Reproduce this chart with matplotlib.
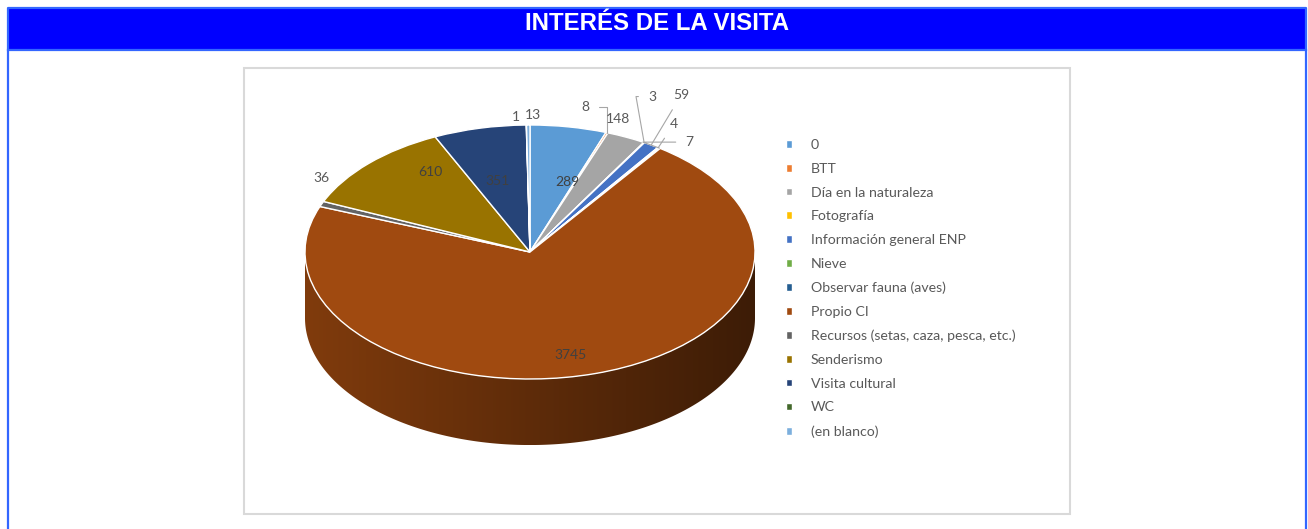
import numpy as np
import matplotlib
matplotlib.use("Agg")
from matplotlib import pyplot as plt
from matplotlib.patches import Rectangle, Polygon
import matplotlib.colors as mcolors

categories = ["0", "BTT", "Día en la naturaleza", "Fotografía", "Información general ENP",
              "Nieve", "Observar fauna (aves)", "Propio CI", "Recursos (setas, caza, pesca, etc.)",
              "Senderismo", "Visita cultural", "WC", "(en blanco)"]
values = [289, 8, 148, 3, 59, 4, 7, 3745, 36, 610, 351, 1, 13]
colors = ["#5B9BD5", "#ED7D31", "#A5A5A5", "#FFC000", "#4472C4", "#70AD47", "#255E91",
          "#A04A10", "#636363", "#997300", "#264478", "#43682B", "#7CAFDD"]
title = "INTERÉS DE LA VISITA"

W, H = 1308, 529
fig = plt.figure(figsize=(W / 100, H / 100), dpi=100)

# page frame + title bar (pixel coordinates)
bg = fig.add_axes([0, 0, 1, 1])
bg.set_xlim(0, W)
bg.set_ylim(H, 0)
bg.axis("off")
bg.add_patch(Rectangle((9, 9), 1296, 40, facecolor="#0000FF", edgecolor="none"))
bg.plot([8, 8, 1306, 1306], [H + 5, 8, 8, H + 5], color="#3366FF", lw=1.6)
bg.plot([8, 1306], [49.5, 49.5], color="#3366FF", lw=1.6)
bg.add_patch(Rectangle((244, 68), 826, 446, facecolor="white", edgecolor="#D9D9D9", lw=1.5))
bg.text(657, 29.5, title, color="white", fontsize=17.3, fontweight="bold",
        family="Liberation Sans", ha="center", va="baseline")

# pie axes: unit circle -> ellipse rx=225 px, ry=127 px, center (530, 252)
cx, cy, rx, ry = 530, 252, 225, 127
depth = 0.52
ylo, yhi = -1.75, 1.0
ax = fig.add_axes([(cx - rx) / W, 1 - (cy - ylo * ry) / H, 2 * rx / W, (yhi - ylo) * ry / H])

wedges, _ = ax.pie(values, colors=colors, startangle=90, counterclock=False,
                   wedgeprops=dict(edgecolor="white", linewidth=1.0), radius=1, frame=False)
for w in wedges:
    w.set_zorder(3)

# 3D side of the pie: front part of each wedge
for w, c in zip(wedges, colors):
    t1, t2 = w.theta1, w.theta2
    for shift in (0, 360, -360):
        a, b = max(t1 + shift, 180), min(t2 + shift, 360)
        if b <= a:
            continue
        t = np.radians(np.linspace(a, b, 200))
        xs, ys = np.cos(t), np.sin(t)
        pts = np.vstack([np.column_stack([xs, ys]), np.column_stack([xs[::-1], ys[::-1] - depth])])
        poly = Polygon(pts, closed=True, facecolor="none", edgecolor="none", zorder=2)
        ax.add_patch(poly)
        base = np.array(mcolors.to_rgb(c))
        grad = np.linspace(0, 1, 256)
        left = base * 0.8
        right = base * 0.38
        img = left[None, :] * (1 - grad[:, None]) + right[None, :] * grad[:, None]
        im = ax.imshow(img[None, :, :], extent=[-1, 1, -1 - depth, 0.2], aspect="auto",
                       zorder=2, interpolation="bilinear")
        im.set_clip_path(poly)
ax.set_xlim(-1, 1)
ax.set_ylim(ylo, yhi)
ax.set_aspect("auto")
ax.axis("off")

# data labels
mids = [np.radians((w.theta1 + w.theta2) / 2) for w in wedges]
inside = {0: (0.98, 0.56), 7: (0.62, 0.85), 9: (0.62, 0.9), 10: (0.64, 0.57)}
for i, (m, v) in enumerate(zip(mids, values)):
    if i in inside:
        fx, fy = inside[i]
        ax.text(fx * np.cos(m), fy * np.sin(m), str(v), ha="center", va="center",
                fontsize=10, color="#404040", family="Lato", zorder=5)

# outside labels: offsets in pixels (dx, dy up), leader style
outside = {1: (-22, 26, "angle,angleA=0,angleB=90,rad=0"), 2: (-8, 18, None),
           3: (8, 46, "angle,angleA=0,angleB=100,rad=0"), 4: (30, 50, "arc3"),
           5: (16, 24, "arc3"), 6: (30, 6, "angle,angleA=0,angleB=160,rad=0"),
           8: (0, 26, None), 11: (-10, 8, None), 12: (5, 10, None)}
for i, (dx, dy, style) in outside.items():
    m = mids[i]
    xy = (np.cos(m), np.sin(m))
    ax.annotate(str(values[i]), xy=xy, xytext=(dx * 0.72, dy * 0.72), textcoords="offset points",
                ha="center", va="center", fontsize=10, color="#595959", family="Lato", zorder=6,
                arrowprops=dict(arrowstyle="-", color="#A6A6A6", lw=0.8, shrinkA=5, shrinkB=0,
                                connectionstyle=style) if style else None)

fig.legend(wedges, categories, loc="upper left", bbox_to_anchor=(786 / W, 1 - 139 / H),
           frameon=False, prop={"family": "Lato", "size": 10.2}, labelcolor="#595959",
           handlelength=0.45, handleheight=0.45, handletextpad=1.3, labelspacing=0.83,
           borderpad=0, borderaxespad=0)

fig.savefig("out.png", dpi=100)
